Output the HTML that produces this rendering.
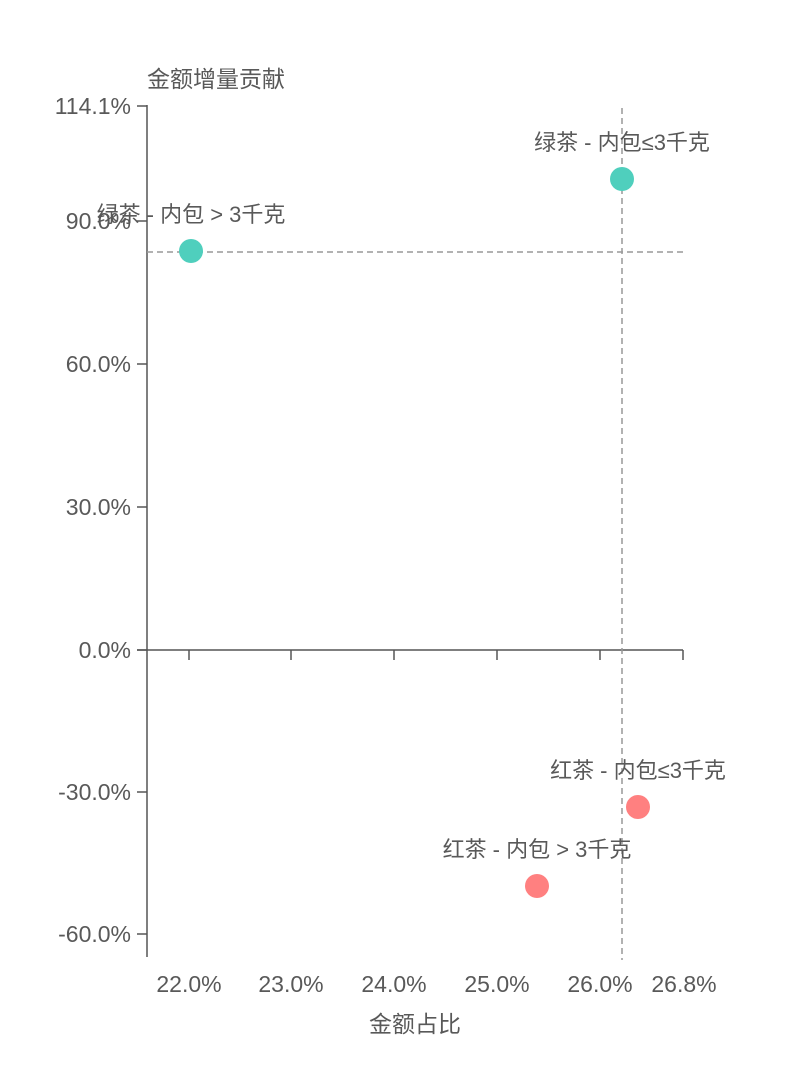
<!DOCTYPE html>
<html><head><meta charset="utf-8"><style>
html,body{margin:0;padding:0;background:#fff;}
svg{display:block;font-family:"Liberation Sans","Noto Sans CJK SC",sans-serif;}
</style></head><body>
<svg width="804" height="1084" viewBox="0 0 804 1084" xmlns="http://www.w3.org/2000/svg">
<g fill="#595959" font-size="23">
<text x="147" y="87">金额增量贡献</text>
<text x="415" y="1032" text-anchor="middle">金额占比</text>
</g>
<line x1="147" y1="105" x2="147" y2="957" stroke="#555" stroke-width="1.5"/>
<g stroke="#555" stroke-width="1.5">
<line x1="137" y1="106" x2="147" y2="106"/>
<line x1="137" y1="221" x2="147" y2="221"/>
<line x1="137" y1="364" x2="147" y2="364"/>
<line x1="137" y1="507" x2="147" y2="507"/>
<line x1="137" y1="650" x2="147" y2="650"/>
<line x1="137" y1="792" x2="147" y2="792"/>
<line x1="137" y1="934" x2="147" y2="934"/>
</g>
<g fill="#595959" font-size="23" text-anchor="end">
<text x="131" y="114">114.1%</text>
<text x="131" y="229">90.0%</text>
<text x="131" y="372">60.0%</text>
<text x="131" y="515">30.0%</text>
<text x="131" y="658">0.0%</text>
<text x="131" y="800">-30.0%</text>
<text x="131" y="942">-60.0%</text>
</g>
<line x1="137" y1="650" x2="683" y2="650" stroke="#555" stroke-width="1.5"/>
<g stroke="#555" stroke-width="1.5">
<line x1="189" y1="650" x2="189" y2="660"/>
<line x1="291" y1="650" x2="291" y2="660"/>
<line x1="394" y1="650" x2="394" y2="660"/>
<line x1="497" y1="650" x2="497" y2="660"/>
<line x1="600" y1="650" x2="600" y2="660"/>
<line x1="683" y1="650" x2="683" y2="660"/>
</g>
<g fill="#595959" font-size="23" text-anchor="middle">
<text x="189" y="992">22.0%</text>
<text x="291" y="992">23.0%</text>
<text x="394" y="992">24.0%</text>
<text x="497" y="992">25.0%</text>
<text x="600" y="992">26.0%</text>
<text x="684" y="992">26.8%</text>
</g>
<line x1="147" y1="252" x2="683" y2="252" stroke="#999" stroke-width="1.5" stroke-dasharray="6,4"/>
<line x1="622" y1="108" x2="622" y2="960" stroke="#999" stroke-width="1.5" stroke-dasharray="6,4"/>
<circle cx="191" cy="251" r="12" fill="#4fcfbd"/>
<circle cx="622" cy="179" r="12" fill="#4fcfbd"/>
<circle cx="537" cy="886" r="12" fill="#ff8080"/>
<circle cx="638" cy="807" r="12" fill="#ff8080"/>
<g fill="#595959" font-size="22" text-anchor="middle">
<text x="191" y="222">绿茶 - 内包 &gt; 3千克</text>
<text x="622" y="150">绿茶 - 内包≤3千克</text>
<text x="537" y="857">红茶 - 内包 &gt; 3千克</text>
<text x="638" y="778">红茶 - 内包≤3千克</text>
</g>
</svg>
</body></html>
